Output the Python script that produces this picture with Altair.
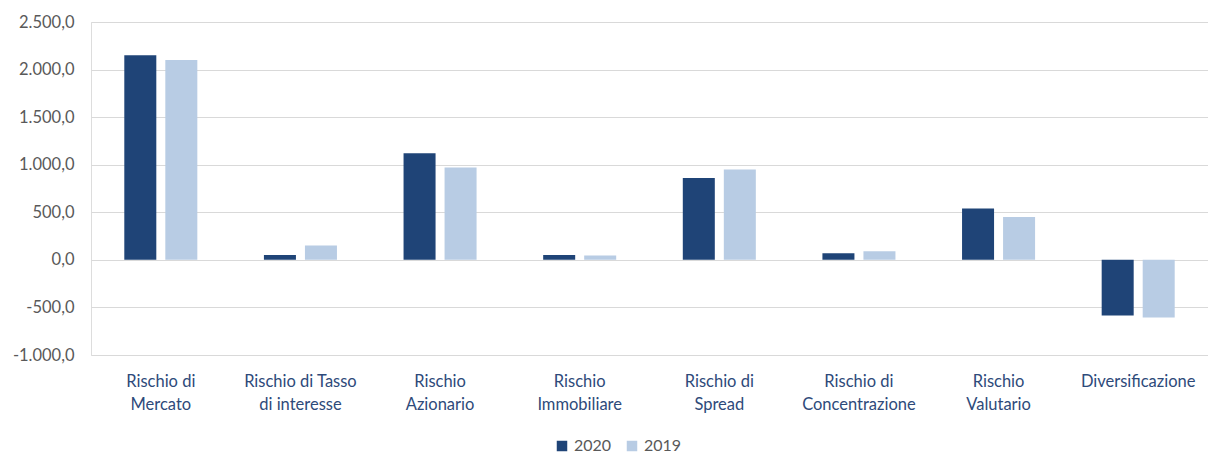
import altair as alt
import pandas as pd

# Risk categories (axis labels split over two lines with "|")
categories = [
    "Rischio di|Mercato",
    "Rischio di Tasso|di interesse",
    "Rischio|Azionario",
    "Rischio|Immobiliare",
    "Rischio di|Spread",
    "Rischio di|Concentrazione",
    "Rischio|Valutario",
    "Diversificazione",
]
values_2020 = [2150, 50, 1120, 50, 860, 70, 540, -585]
values_2019 = [2100, 150, 970, 45, 950, 90, 450, -605]
years = ["2020", "2019"]
year_colors = ["#1F4477", "#B8CCE4"]
y_ticks = [-1000, -500, 0, 500, 1000, 1500, 2000, 2500]

rows = []
for cat, v20, v19 in zip(categories, values_2020, values_2019):
    rows.append({"categoria": cat, "anno": "2020", "valore": v20})
    rows.append({"categoria": cat, "anno": "2019", "valore": v19})
df = pd.DataFrame(rows)

# Italian number format: 2.500,0
label_it = (
    "replace(replace(replace(replace(format(datum.value, ',.1f'), ',', '#'), '.', ','), '#', '.'), '\u2212', '-')"
)

FONT = "Lato"

chart = (
    alt.Chart(df)
    .mark_bar()
    .encode(
        x=alt.X(
            "categoria:N",
            sort=categories,
            scale=alt.Scale(paddingInner=0.477, paddingOuter=0.2385),
            axis=alt.Axis(
                title=None,
                labelAngle=0,
                labelExpr="split(datum.label, '|')",
                labelColor="#2E4A7A",
                labelFont=FONT,
                labelFontSize=16.5,
                labelLineHeight=23,
                labelPadding=18,
                ticks=False,
                domain=False,
                grid=False,
                labelBaseline="top",
            ),
        ),
        xOffset=alt.XOffset(
            "anno:N",
            sort=years,
            scale=alt.Scale(paddingInner=0.2195, paddingOuter=0),
        ),
        y=alt.Y(
            "valore:Q",
            scale=alt.Scale(domain=[-1000, 2500], nice=False),
            axis=alt.Axis(
                title=None,
                values=y_ticks,
                labelExpr=label_it,
                labelColor="#595959",
                labelFont=FONT,
                labelFontSize=16.5,
                labelPadding=17,
                ticks=False,
                domain=False,
                gridColor="#D9D9D9",
                gridWidth=1.2,
            ),
        ),
        color=alt.Color(
            "anno:N",
            sort=years,
            scale=alt.Scale(domain=years, range=year_colors),
            legend=alt.Legend(
                title=None,
                orient="none",
                legendX=463,
                legendY=416,
                direction="horizontal",
                symbolType="square",
                symbolSize=110,
                symbolStrokeWidth=0,
                labelColor="#595959",
                labelFont=FONT,
                labelFontSize=16,
                columnPadding=12,
            ),
        ),
    )
    .properties(
        width=1117,
        height=333,
        autosize=alt.AutoSizeParams(type="none"),
        padding={"left": 91, "top": 22, "right": 0, "bottom": 99},
    )
    .configure_view(stroke=None)
    .configure(background="white")
)

chart.save("out.html", embed_options={"renderer": "svg", "actions": False})
